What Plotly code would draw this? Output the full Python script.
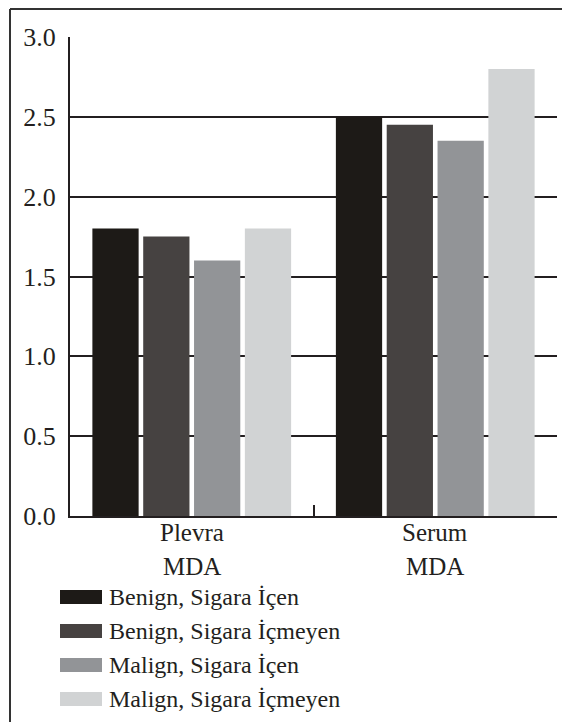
import plotly.graph_objects as go

categories = ["Plevra", "Serum"]
category_sub = ["MDA", "MDA"]
series_names = [
    "Benign, Sigara İçen",
    "Benign, Sigara İçmeyen",
    "Malign, Sigara İçen",
    "Malign, Sigara İçmeyen",
]
series_values = [
    [1.80, 2.50],
    [1.75, 2.45],
    [1.60, 2.35],
    [1.80, 2.80],
]
series_colors = ["#1d1a17", "#464241", "#929497", "#d1d3d4"]
y_ticks = [0.0, 0.5, 1.0, 1.5, 2.0, 2.5, 3.0]
y_tick_labels = ["0.0", "0.5", "1.0", "1.5", "2.0", "2.5", "3.0"]

FONT = "Liberation Serif, Times New Roman, serif"
TXT = "#231f20"
OFF = 8  # default body margin of the html page
PAGE_W, PAGE_H = 570, 722
W, H = PAGE_W - OFF, PAGE_H - OFF
# plot area in page pixels: x 70..557, y 37..516
PL, PR, PT, PB = 70, 557, 37, 516
L, T = PL - OFF, PT - OFF
R = W - (PR - OFF)
B = H - (PB - OFF)
pw, ph = PR - PL, PB - PT


def px_x(px):
    return (px - PL) / pw


def px_y(py):
    return (PB - py) / ph


fig = go.Figure()
for name, vals, col in zip(series_names, series_values, series_colors):
    fig.add_trace(go.Bar(x=categories, y=vals, name=name,
                         marker=dict(color=col, line=dict(width=0)),
                         showlegend=False))

shapes = []
annotations = []
# manual legend
row_y = [597, 631, 665, 699]
for i, (name, col) in enumerate(zip(series_names, series_colors)):
    cy = row_y[i]
    shapes.append(dict(type="rect", xref="paper", yref="paper",
                       x0=px_x(60), x1=px_x(102), y0=px_y(cy + 7), y1=px_y(cy - 7),
                       fillcolor=col, line=dict(width=0)))
    annotations.append(dict(xref="paper", yref="paper", x=px_x(107), y=px_y(cy),
                            text=name, showarrow=False, xanchor="left", yanchor="middle",
                            font=dict(family=FONT, size=24, color=TXT)))
# category labels (two lines each)
for c, sub in zip(categories, category_sub):
    annotations.append(dict(xref="x", yref="paper", x=c, y=px_y(532),
                            text=c, showarrow=False, xanchor="center", yanchor="middle",
                            font=dict(family=FONT, size=25, color=TXT)))
    annotations.append(dict(xref="x", yref="paper", x=c, y=px_y(566),
                            text=sub, showarrow=False, xanchor="center", yanchor="middle",
                            font=dict(family=FONT, size=25, color=TXT)))
# outer frame (top and left visible)
shapes.append(dict(type="line", xref="paper", yref="paper",
                   x0=px_x(10), x1=px_x(600), y0=px_y(9), y1=px_y(9),
                   line=dict(color="#333333", width=2)))
shapes.append(dict(type="line", xref="paper", yref="paper",
                   x0=px_x(10), x1=px_x(10), y0=px_y(9), y1=px_y(760),
                   line=dict(color="#333333", width=2)))

fig.update_layout(
    width=W, height=H,
    margin=dict(l=L, r=R, t=T, b=B),
    paper_bgcolor="white", plot_bgcolor="white",
    barmode="group", bargap=0.165, bargroupgap=0.09,
    font=dict(family=FONT, size=24, color=TXT),
    shapes=shapes, annotations=annotations,
    xaxis=dict(showline=True, linecolor=TXT, linewidth=2,
               ticks="inside", tickson="boundaries", ticklen=11, tickwidth=2,
               tickcolor=TXT, showgrid=False, showticklabels=False),
    yaxis=dict(range=[0, 3], tickvals=y_ticks, ticktext=y_tick_labels,
               showline=True, linecolor=TXT, linewidth=2,
               showgrid=True, gridcolor=TXT, gridwidth=2,
               zeroline=False, ticks="", ticklabelstandoff=7,
               tickfont=dict(family=FONT, size=26, color=TXT)),
)

fig.write_html("out.html")
